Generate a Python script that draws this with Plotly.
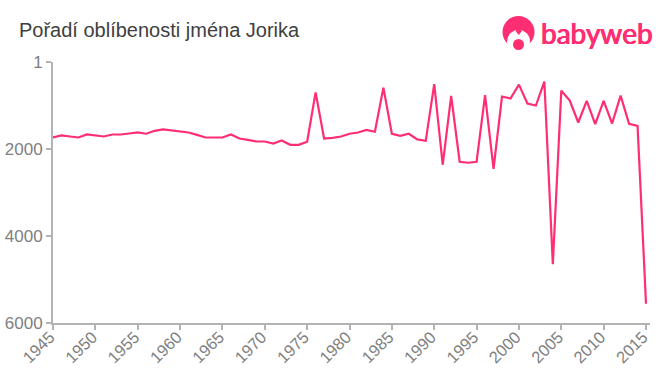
import plotly.graph_objects as go

years = list(range(1945, 2016))
ranks = [1736,1690,1713,1736,1667,1690,1713,1667,1667,1644,1621,1650,1583,1552,1575,1585,1621,1675,1736,1736,
         1736,1667,1760,1790,1828,1828,1875,1805,1905,1905,1835,700,1760,1745,1713,1650,1621,1560,1605,590,
         1650,1697,1650,1780,1813,510,2363,780,2294,2317,2294,760,2455,795,841,520,956,1002,450,4650,
         660,887,1392,895,1430,895,1415,775,1422,1468,5558]
x_ticks = list(range(1945, 2016, 5))
y_ticks = [1, 2000, 4000, 6000]
title = "Pořadí oblíbenosti jména Jorika"
brand = "babyweb"

W, H = 660, 375
L, R, T, B = 53, 10, 62, 52
PINK = "#ff2d72"
GREY = "#b3b3b3"
TICK = "#808080"

def px(v): return (v - L) / (W - L - R)
def py(v): return 1 - (v - T) / (H - T - B)

def circle(cx, cy, r, color):
    return dict(type="circle", xref="paper", yref="paper", x0=px(cx-r), x1=px(cx+r),
                y0=py(cy+r), y1=py(cy-r), fillcolor=color, line=dict(width=0), layer="above")

def tuft():
    pts = [(515.5, 31), (518.7, 28.5), (521.9, 31), (518.7, 35)]
    d = "M " + " L ".join(f"{px(a):.5f},{py(b):.5f}" for a, b in pts) + " Z"
    return dict(type="path", xref="paper", yref="paper", path=d, fillcolor=PINK, line=dict(width=0), layer="above")

fig = go.Figure(go.Scatter(x=years, y=ranks, mode="lines", line=dict(color=PINK, width=2.2),
                           hoverinfo="skip", cliponaxis=False))
fig.update_layout(
    width=W, height=H, paper_bgcolor="white", plot_bgcolor="white", showlegend=False,
    margin=dict(l=L, r=R, t=T, b=B, pad=0, autoexpand=False),
    font=dict(family="Liberation Sans, Arial, sans-serif"),
    title=dict(text=title, x=19/W, xanchor="left", y=1-30/H, yanchor="middle",
               font=dict(size=20, color="#404040"), automargin=False),
    xaxis=dict(range=[1945, 2015.47], tickvals=x_ticks, ticktext=[str(t) for t in x_ticks], tickangle=-45,
               automargin=False, showgrid=False, zeroline=False, showline=True, linecolor=GREY, linewidth=2,
               ticks="outside", ticklen=5, tickcolor=GREY, tickwidth=1.5, ticklabelstandoff=-9, ticklabelshift=-3,
               tickfont=dict(size=16.5, color=TICK)),
    yaxis=dict(range=[6000, 1], tickvals=y_ticks, ticktext=[str(t) for t in y_ticks],
               automargin=False, showgrid=False, zeroline=False, showline=True, linecolor=GREY, linewidth=2,
               ticks="outside", ticklen=5, tickcolor=GREY, tickwidth=1.5,
               tickfont=dict(size=17, color=TICK)),
    shapes=[circle(518.5, 32, 16, PINK), circle(518.5, 41.5, 11.5, "white"), tuft(), circle(518.5, 44.5, 5.5, PINK)],
    annotations=[dict(text=brand, x=px(539), y=py(33), xref="paper", yref="paper", xanchor="left",
                      yanchor="middle", showarrow=False,
                      font=dict(family="Lato, sans-serif", size=28, color=PINK,
                                shadow=f"0.5px 0 0 {PINK}, -0.5px 0 0 {PINK}"))],
)
fig.write_html("out.html", config={"displayModeBar": False}, post_script="document.body.style.margin='0';")
